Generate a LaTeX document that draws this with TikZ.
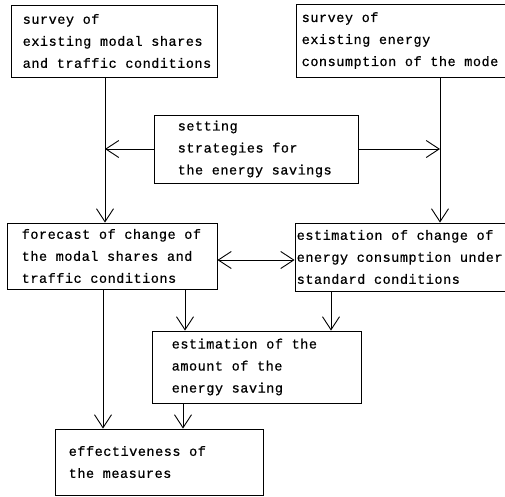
\documentclass[tikz,border=0pt]{standalone}
\usepackage{fontspec}
\newfontfamily\typewriter[LetterSpace=4,FakeBold=0.6]{Liberation Mono}
\usetikzlibrary{arrows.meta}
\tikzset{
  stage/.style={draw, line width=0.9pt, inner sep=0pt},
  note/.style={anchor=west, align=left, inner sep=0pt,
    font=\typewriter\fontsize{13.5}{22}\selectfont},
  flow/.style={line width=0.9pt, -{Straight Barb[length=13pt,width=17pt]}},
  both/.style={line width=0.9pt,
    {Straight Barb[length=13pt,width=17pt]}-{Straight Barb[length=13pt,width=17pt]}}
}
\begin{document}
\begin{tikzpicture}[x=1pt, y=-1pt]
      \useasboundingbox (0,0) rectangle (505,496);
      \node[stage, minimum width=206pt, minimum height=72pt] (modal) at (114,41) {};
      \node[stage, minimum width=216pt, minimum height=73pt] (energy) at (404,40.5) {};
      \node[stage, minimum width=204pt, minimum height=68pt] (strategy) at (256,149) {};
      \node[stage, minimum width=210pt, minimum height=66pt] (forecast) at (112,256) {};
      \node[stage, minimum width=217pt, minimum height=68pt] (change) at (403.5,257) {};
      \node[stage, minimum width=209pt, minimum height=72pt] (amount) at (256.5,367) {};
      \node[stage, minimum width=208pt, minimum height=66pt] (effect) at (159,462) {};
      \node[note] (modaltext) at ([xshift=12pt]modal.west)
        {survey of\\existing modal shares\\and traffic conditions};
      \node[note] (energytext) at ([xshift=6pt]energy.west)
        {survey of\\existing energy\\consumption of the mode};
      \node[note] (strategytext) at ([xshift=24pt]strategy.west)
        {setting\\strategies for\\the energy savings};
      \node[note] (forecasttext) at ([xshift=15pt]forecast.west)
        {forecast of change of\\the modal shares and\\traffic conditions};
      \node[note] (changetext) at ([xshift=2pt]change.west)
        {estimation of change of\\energy consumption under\\standard conditions};
      \node[note] (amounttext) at ([xshift=20pt]amount.west)
        {estimation of the\\amount of the\\energy saving};
      \node[note] (effecttext) at ([xshift=14pt]effect.west)
        {effectiveness of\\the measures};
      \coordinate (modalline) at (105,0);
      \coordinate (energyline) at (440,0);
      \begin{scope}[flow]
        \draw ([xshift=-9pt]modal.south) to ([xshift=-7pt]forecast.north);
        \draw ([xshift=36pt]energy.south) to ([xshift=36.5pt]change.north);
        \draw (strategy.west) to (strategy.west -| modalline);
        \draw (strategy.east) to (strategy.east -| energyline);
        \draw ([xshift=-9pt]forecast.south) to ([xshift=-56pt]effect.north);
        \draw ([xshift=73pt]forecast.south) to ([xshift=-71.5pt]amount.north);
        \draw ([xshift=-72.5pt]change.south) to ([xshift=74.5pt]amount.north);
        \draw ([xshift=-73.5pt]amount.south) to ([xshift=24pt]effect.north);
      \end{scope}
      \draw[both] ([yshift=-4pt]forecast.east) to ([yshift=-3pt]change.west);
    \end{tikzpicture}
\end{document}
